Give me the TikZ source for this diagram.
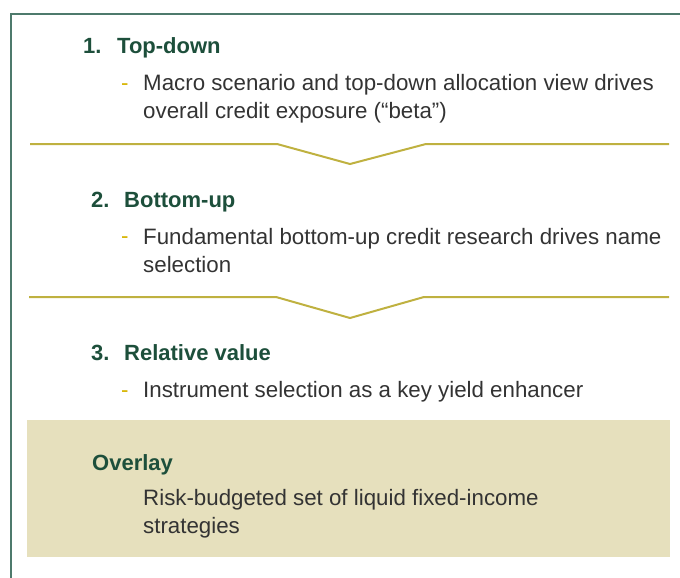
\documentclass[tikz,border=0pt]{standalone}
\usepackage{fontspec}
\setmainfont{Liberation Sans}
\definecolor{headgreen}{HTML}{1D4F3B}
\definecolor{bodygray}{HTML}{333333}
\definecolor{dashgold}{HTML}{D6B400}
\definecolor{divgold}{HTML}{BFB140}
\definecolor{framegreen}{HTML}{4E7A6C}
\definecolor{boxfill}{HTML}{E6E0BD}
\tikzset{
  heading/.style={anchor=base west, inner sep=0pt, text=headgreen, font=\fontsize{22}{26}\selectfont\bfseries},
  bodytext/.style={anchor=base west, inner sep=0pt, text=bodygray, align=left, font=\fontsize{22.3}{28}\selectfont},
  bullet/.style={anchor=base west, inner sep=0pt, text=dashgold, font=\fontsize{22.3}{28}\selectfont},
  divider/.style={draw=divgold, line width=2pt, line join=miter},
  frameline/.style={draw=framegreen, line width=2pt}
}
\begin{document}
\begin{tikzpicture}[x=1pt,y=-1pt]
\useasboundingbox (0,0) rectangle (680,578);
% frame
\draw[frameline] (11,578) -- (11,14) -- (680,14);
% overlay box
\fill[boxfill] (27,420) rectangle (670,557);
% dividers
\draw[divider] (30,144) -- (277,144) -- (350,164) -- (426,144) -- (669,144);
\draw[divider] (29,297) -- (276,297) -- (350,318) -- (424,297) -- (669,297);
% item 1 (multi-line nodes: base = baseline of last line)
\node[heading] (h1) at (83,54) {\makebox[34pt][l]{1.}Top-down};
\node[bullet] (d1) at (121,90) {-};
\node[bodytext] (t1) at (143,118) {Macro scenario and top-down allocation view drives\\overall credit exposure (“beta”)};
% item 2
\node[heading] (h2) at (91,207) {\makebox[33pt][l]{2.}Bottom-up};
\node[bullet] (d2) at (121,243) {-};
\node[bodytext] (t2) at (143,272) {Fundamental bottom-up credit research drives name\\selection};
% item 3
\node[heading] (h3) at (91,360) {\makebox[33pt][l]{3.}Relative value};
\node[bullet] (d3) at (121,397) {-};
\node[bodytext] (t3) at (143,397) {Instrument selection as a key yield enhancer};
% overlay
\node[heading] (ho) at (92,470) {Overlay};
\node[bodytext] (to) at (143,533) {Risk-budgeted set of liquid fixed-income\\strategies};
\end{tikzpicture}
\end{document}
